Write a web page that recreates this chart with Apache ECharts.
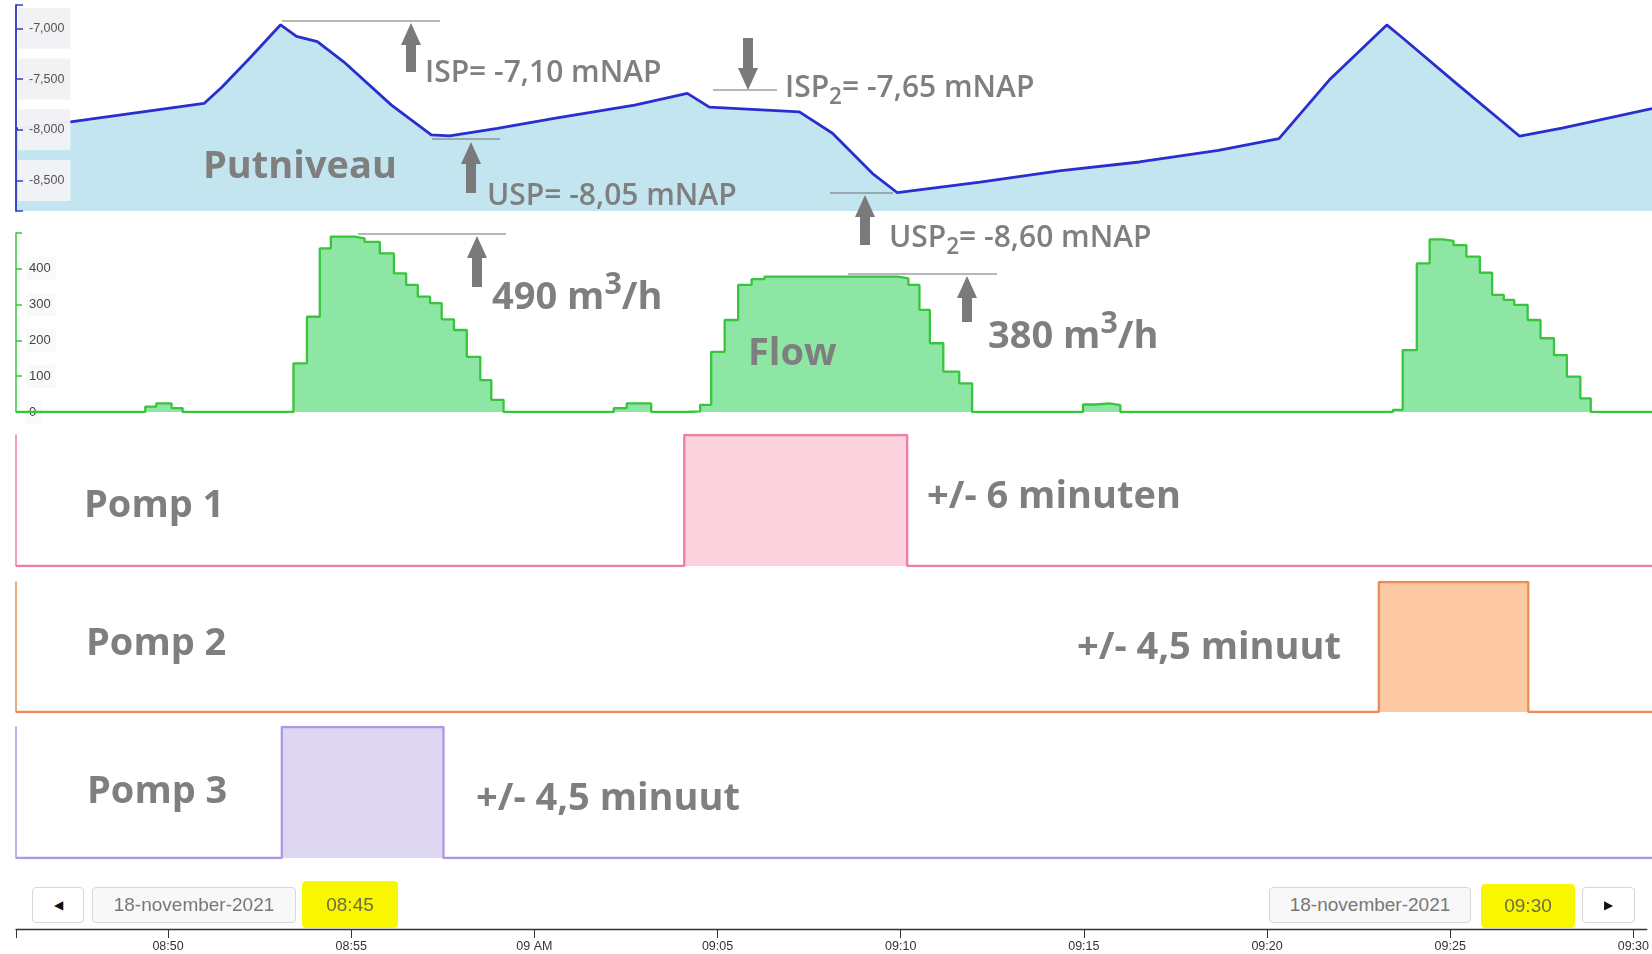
<!DOCTYPE html>
<html lang="nl">
<head>
    <meta charset="UTF-8">
    <title>Putniveau, flow en pompen</title>
    <script src="https://cdn.jsdelivr.net/npm/echarts@6/dist/echarts.min.js"></script>
    <style>
        body { margin: 0; background: #fff; }
        #wrap { position: relative; width: 1652px; height: 954px; overflow: hidden; }
        #main { position: absolute; left: 0; top: 0; width: 1652px; height: 954px; }
        .note {
            position: absolute;
            font-family: 'Open Sans', sans-serif;
            color: #7f7f7f;
            line-height: 1;
            white-space: nowrap;
            pointer-events: none;
        }
        .big { font-size: 38px; font-weight: 700; }
        .mid { font-size: 30px; font-weight: 600; }
        .note sub { font-size: 0.75em; vertical-align: -0.3em; line-height: 0; }
        .note sup { font-size: 0.8em; vertical-align: 0.5em; line-height: 0; }
        .box {
            position: absolute;
            top: 887px;
            height: 36px;
            box-sizing: border-box;
            border: 1px solid #d8d8d8;
            border-radius: 4px;
            background: #f8f8f8;
            font-family: 'Liberation Sans', Arial, sans-serif;
            font-size: 19px;
            color: #777;
            display: flex;
            align-items: center;
            justify-content: center;
        }
        .btn { background: #fff; color: #111; font-size: 12px; }
        .hl { background: #f9f700; border-color: #f9f700; color: #6e6e3c; }
    </style>
</head>
<body>
<div id="wrap">
    <div id="main"></div>

    <div class="note big" style="left:203px; top:144px;">Putniveau</div>
    <div class="note mid" style="left:425px; top:56px;">ISP= -7,10 mNAP</div>
    <div class="note mid" style="left:487px; top:179px;">USP= -8,05 mNAP</div>
    <div class="note mid" style="left:785px; top:71px;">ISP<sub>2</sub>= -7,65 mNAP</div>
    <div class="note mid" style="left:889px; top:221px;">USP<sub>2</sub>= -8,60 mNAP</div>

    <div class="note big" style="left:748px; top:331px;">Flow</div>
    <div class="note big" style="left:492px; top:275px;">490 m<sup>3</sup>/h</div>
    <div class="note big" style="left:988px; top:314px;">380 m<sup>3</sup>/h</div>

    <div class="note big" style="left:84px; top:483px;">Pomp 1</div>
    <div class="note big" style="left:927px; top:474px;">+/- 6 minuten</div>
    <div class="note big" style="left:86px; top:621px;">Pomp 2</div>
    <div class="note big" style="left:1077px; top:625px;">+/- 4,5 minuut</div>
    <div class="note big" style="left:87px; top:769px;">Pomp 3</div>
    <div class="note big" style="left:476px; top:776px;">+/- 4,5 minuut</div>

    <div class="box btn" style="left:32px; width:52px;">◀</div>
    <div class="box" style="left:92px; width:204px;">18-november-2021</div>
    <div class="box hl" style="left:302px; width:96px; top:881px; height:47px;">08:45</div>
    <div class="box" style="left:1269px; width:202px;">18-november-2021</div>
    <div class="box hl" style="left:1481px; width:94px; top:884px; height:44px;">09:30</div>
    <div class="box btn" style="left:1582px; width:53px;">▶</div>
</div>

<script type="text/javascript">
    const day = '2021-11-18T';
    const xMin = '08:45:51';
    const xMax = '09:30:22';

    // putniveau (mm NAP)
    const levelTimes = ['08:45:51', '08:47:17', '08:50:58', '08:51:27', '08:52:14', '08:53:03', '08:53:29',
        '08:54:03', '08:54:46', '08:56:04', '08:57:09', '08:57:39', '08:58:57', '09:00:32', '09:02:41',
        '09:04:07', '09:04:43', '09:07:10', '09:08:04', '09:09:09', '09:09:50', '09:12:05', '09:14:14',
        '09:16:25', '09:18:34', '09:20:13', '09:21:35', '09:23:09', '09:23:35', '09:25:02', '09:26:46',
        '09:27:55', '09:30:22'];
    const levelValues = [-7990, -7925, -7740, -7580, -7285, -6965, -7080,
        -7130, -7330, -7757, -8050, -8060, -7985, -7885, -7757,
        -7641, -7777, -7823, -8034, -8429, -8620, -8515, -8405,
        -8317, -8202, -8086, -7510, -6966, -7095, -7540, -8063,
        -7984, -7790];

    // flow (m3/h)
    const flowTimes = ['08:45:51', '08:49:22', '08:49:40', '08:50:05', '08:50:23', '08:53:24', '08:53:46',
        '08:54:07', '08:54:25', '08:55:04', '08:55:20', '08:55:45', '08:56:08', '08:56:28', '08:56:47',
        '08:57:07', '08:57:26', '08:57:46', '08:58:07', '08:58:29', '08:58:47', '08:59:07', '09:02:07',
        '09:02:28', '09:03:08', '09:04:07', '09:04:28', '09:04:46', '09:05:08', '09:05:30', '09:05:52',
        '09:06:13', '09:09:51', '09:10:08', '09:10:26', '09:10:43', '09:11:05', '09:11:31', '09:11:52',
        '09:14:53', '09:15:14', '09:15:36', '09:15:54', '09:23:19', '09:23:35', '09:23:58', '09:24:19',
        '09:24:41', '09:24:58', '09:25:19', '09:25:41', '09:26:01', '09:26:20', '09:26:37', '09:26:59',
        '09:27:20', '09:27:42', '09:28:03', '09:28:25', '09:28:42', '09:30:22'];
    const flowValues = [0, 15, 24, 11, 0, 136, 266,
        457, 490, 485, 475, 443, 387, 355, 322,
        304, 259, 229, 154, 89, 34, 0, 11,
        24, 0, 2, 20, 168, 257, 355, 371,
        378, 373, 355, 285, 192, 113, 80, 0,
        21, 24, 19, 0, 6, 173, 415, 482,
        478, 466, 434, 389, 327, 313, 299, 257,
        206, 159, 99, 38, 0, 0];

    // pompen aan/uit
    const pomp1Times = ['08:45:51', '09:04:02', '09:10:06', '09:30:22'];
    const pomp1Values = [0, 1, 0, 0];
    const pomp2Times = ['08:45:51', '09:22:56', '09:27:00', '09:30:22'];
    const pomp2Values = [0, 1, 0, 0];
    const pomp3Times = ['08:45:51', '08:53:05', '08:57:29', '09:30:22'];
    const pomp3Values = [0, 1, 0, 0];

    const levelTicks = [-8500, -8000, -7500, -7000];
    const flowTicks = [0, 100, 200, 300, 400];
    const timeTicks = ['08:50', '08:55', '09:00', '09:05', '09:10', '09:15', '09:20', '09:25', '09:30'];

    function ms(t) {
        if (t.length === 5) t += ':00';
        return new Date(day + t).getTime();
    }

    function pairs(times, values) {
        return times.map(function (t, i) {
            return [ms(t), values[i]];
        });
    }

    function pad(n) {
        return (n < 10 ? '0' : '') + n;
    }

    const panels = [
        {top: 5, height: 206, min: -8800, max: -6770},
        {top: 233, height: 179, min: 0, max: 500},
        {top: 435, height: 131, min: 0, max: 1},
        {top: 582, height: 130, min: 0, max: 1},
        {top: 727, height: 131, min: 0, max: 1},
        {top: 928, height: 1, min: 0, max: 1}
    ];

    const lineColors = ['#2a2ecf', '#38c43c', '#ef7fa1', '#e98d55', '#ae98e4'];
    const fillColors = ['#c3e5f0', '#8de6a3', '#fcd2df', '#fcc9a3', '#ddd6f1'];

    let chart = echarts.init(document.getElementById('main'));

    let grids = panels.map(function (p) {
        return {left: 16, right: 0, top: p.top, height: p.height};
    });

    let xAxes = panels.map(function (p, i) {
        return {
            type: 'value',
            gridIndex: i,
            min: ms(xMin),
            max: ms(xMax),
            show: i === 5,
            splitLine: {show: false},
            axisLine: {lineStyle: {color: '#333', width: 1.3}},
            axisTick: {
                show: true,
                length: 9,
                customValues: [ms(xMin)].concat(timeTicks.map(ms)),
                lineStyle: {color: '#333'}
            },
            axisLabel: {
                customValues: timeTicks.map(ms),
                fontSize: 12.5,
                color: '#333',
                margin: 11,
                fontFamily: 'Liberation Sans',
                formatter: function (v) {
                    let d = new Date(v);
                    if (d.getMinutes() === 0) return pad(d.getHours()) + ' AM';
                    return pad(d.getHours()) + ':' + pad(d.getMinutes());
                }
            }
        };
    });

    let yAxes = panels.map(function (p, i) {
        let axis = {
            type: 'value',
            gridIndex: i,
            min: p.min,
            max: p.max,
            show: i < 5,
            z: i === 0 ? 10 : 3,
            splitLine: {show: false},
            axisLine: {show: true, lineStyle: {color: lineColors[i] || '#333', width: 1.5}},
            axisTick: {show: false},
            axisLabel: {show: false}
        };
        if (i === 0) {
            axis.axisLabel = {
                show: true, inside: true, margin: 2,
                customValues: levelTicks,
                fontSize: 12.5, color: '#555', fontFamily: 'Liberation Sans',
                backgroundColor: 'rgba(242,242,245,0.97)',
                padding: [14, 6, 14, 11],
                formatter: function (v) {
                    return v.toLocaleString('en-US');
                }
            };
        }
        if (i === 1) {
            axis.axisTick = {
                show: true, inside: true, length: 6,
                customValues: flowTicks.concat([p.max]),
                lineStyle: {color: '#38c43c', width: 1.5}
            };
            axis.axisLabel = {
                show: true, inside: true, margin: 10,
                customValues: flowTicks,
                fontSize: 13, color: '#444', fontFamily: 'Liberation Sans',
                backgroundColor: 'rgba(246,246,246,0.7)',
                padding: [5, 5, 5, 3]
            };
        }
        return axis;
    });

    // tweede as op het putniveau-paneel: alleen lijn en streepjes, boven de labelvakjes
    yAxes.push({
        type: 'value',
        gridIndex: 0,
        position: 'left',
        min: panels[0].min,
        max: panels[0].max,
        z: 11,
        splitLine: {show: false},
        axisLabel: {show: false},
        axisLine: {show: true, lineStyle: {color: '#3a3fc0', width: 1.5}},
        axisTick: {
            show: true, inside: true, length: 7,
            customValues: [panels[0].min].concat(levelTicks, [panels[0].max]),
            lineStyle: {color: '#3a3fc0', width: 1.5}
        }
    });

    let seriesData = [
        pairs(levelTimes, levelValues),
        pairs(flowTimes, flowValues),
        pairs(pomp1Times, pomp1Values),
        pairs(pomp2Times, pomp2Values),
        pairs(pomp3Times, pomp3Values)
    ];
    let names = ['Putniveau', 'Flow', 'Pomp 1', 'Pomp 2', 'Pomp 3'];

    let series = seriesData.map(function (data, i) {
        return {
            name: names[i],
            type: 'line',
            xAxisIndex: i,
            yAxisIndex: i,
            data: data,
            step: i === 0 ? false : 'end',
            showSymbol: false,
            lineStyle: {color: lineColors[i], width: i === 0 ? 2.8 : 2.3},
            areaStyle: {color: fillColors[i], opacity: 1, origin: 'start'}
        };
    });

    // annotatie-pijlen: [x, punt, staart]
    const arrows = [[411, 23, 72], [471, 142, 193], [748, 90, 38], [865, 195, 245], [477, 236, 287], [967, 276, 322]];
    const refLines = [[282, 440, 21], [432, 500, 139], [713, 777, 90], [830, 893, 193], [358, 506, 234], [848, 997, 274]];

    function arrowShape(a) {
        let x = a[0], tip = a[1], tail = a[2];
        let dir = tail > tip ? 1 : -1;
        let hb = tip + dir * 22;
        return {
            type: 'polygon',
            shape: {points: [[x, tip], [x + 10, hb], [x + 5, hb], [x + 5, tail], [x - 5, tail], [x - 5, hb], [x - 10, hb]]},
            style: {fill: '#7a7a7a'},
            z: 10
        };
    }

    let graphics = arrows.map(arrowShape).concat(refLines.map(function (l) {
        return {
            type: 'line',
            shape: {x1: l[0], y1: l[2], x2: l[1], y2: l[2]},
            style: {stroke: '#6f6f6f', lineWidth: 1},
            z: 10
        };
    }));

    let option = {
        animation: false,
        grid: grids,
        xAxis: xAxes,
        yAxis: yAxes,
        series: series,
        graphic: graphics
    };

    chart.setOption(option);
</script>
</body>
</html>
